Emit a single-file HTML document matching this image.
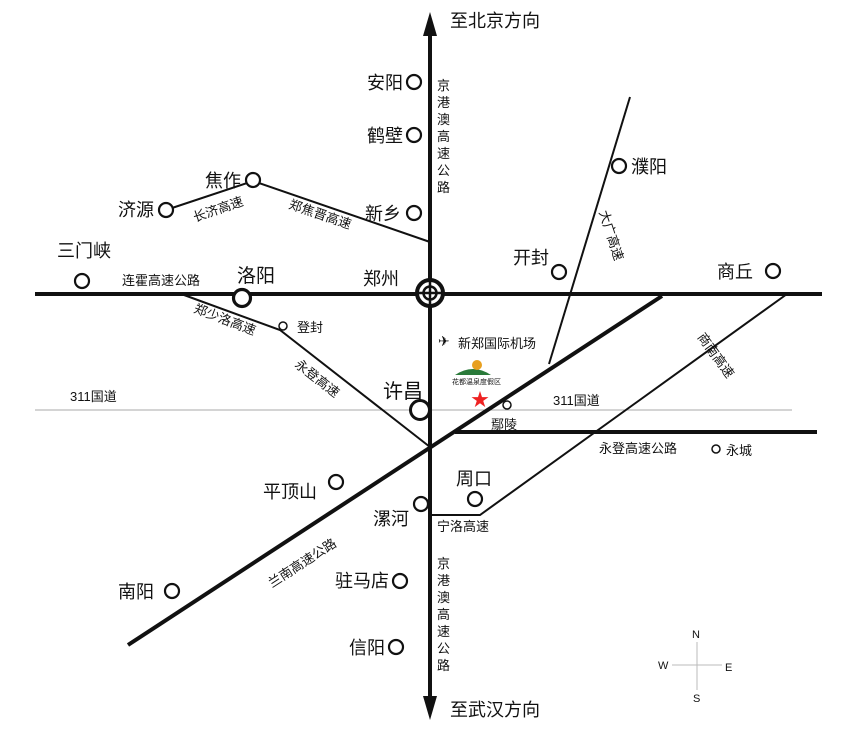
<!DOCTYPE html>
<html><head><meta charset="utf-8"><style>
html,body{margin:0;padding:0;background:#fff}
svg{display:block}
text{font-family:"Liberation Sans","Noto Sans CJK SC",sans-serif;fill:#111}
.c{font-size:18px}
.r{font-size:13px}
</style></head><body>
<svg width="851" height="733" viewBox="0 0 851 733" xmlns="http://www.w3.org/2000/svg">
<line x1="35" y1="410" x2="792" y2="410" stroke="#aaa" stroke-width="1"/>
<line x1="430" y1="30" x2="430" y2="702" stroke="#111" stroke-width="4"/>
<polygon points="430,12 423,36 437,36" fill="#111"/>
<polygon points="430,720 423,696 437,696" fill="#111"/>
<line x1="35" y1="294" x2="822" y2="294" stroke="#111" stroke-width="4"/>
<line x1="128" y1="645" x2="662" y2="296" stroke="#111" stroke-width="4"/>
<line x1="455" y1="432" x2="817" y2="432" stroke="#111" stroke-width="4"/>
<polyline points="430,515 480,515 787,294" fill="none" stroke="#111" stroke-width="2"/>
<line x1="630" y1="97" x2="549" y2="364" stroke="#111" stroke-width="2"/>
<polyline points="166,210 253,181 430,242" fill="none" stroke="#111" stroke-width="2"/>
<polyline points="184,295 280,330 430,447" fill="none" stroke="#111" stroke-width="2"/>
<g fill="#fff" stroke="#111" stroke-width="2.2">
<circle cx="414" cy="82" r="7"/>
<circle cx="414" cy="135" r="7"/>
<circle cx="414" cy="213" r="7"/>
<circle cx="253" cy="180" r="7"/>
<circle cx="166" cy="210" r="7"/>
<circle cx="82" cy="281" r="7"/>
<circle cx="619" cy="166" r="7"/>
<circle cx="559" cy="272" r="7"/>
<circle cx="773" cy="271" r="7"/>
<circle cx="336" cy="482" r="7"/>
<circle cx="421" cy="504" r="7"/>
<circle cx="475" cy="499" r="7"/>
<circle cx="400" cy="581" r="7"/>
<circle cx="172" cy="591" r="7"/>
<circle cx="396" cy="647" r="7"/>
</g>
<circle cx="242" cy="298" r="8.5" fill="#fff" stroke="#111" stroke-width="3.2"/>
<circle cx="420" cy="410" r="9.5" fill="#fff" stroke="#111" stroke-width="3"/>
<g fill="#fff" stroke="#111" stroke-width="1.5">
<circle cx="283" cy="326" r="4"/>
<circle cx="507" cy="405" r="4"/>
<circle cx="716" cy="449" r="4"/>
</g>
<circle cx="430" cy="293" r="13" fill="#fff" stroke="#111" stroke-width="4"/>
<circle cx="430" cy="293" r="6.5" fill="none" stroke="#111" stroke-width="2.5"/>
<line x1="430" y1="280" x2="430" y2="306" stroke="#111" stroke-width="2.5"/>
<line x1="417" y1="293" x2="443" y2="293" stroke="#111" stroke-width="2.5"/>
<line x1="697" y1="642" x2="697" y2="690" stroke="#bbb" stroke-width="1"/>
<line x1="672" y1="665" x2="722" y2="665" stroke="#bbb" stroke-width="1"/>
<text x="692" y="638" style="font-size:11px">N</text>
<text x="658" y="669" style="font-size:11px">W</text>
<text x="725" y="671" style="font-size:11px">E</text>
<text x="693" y="702" style="font-size:11px">S</text>
<text x="471" y="406" style="font-size:18px;fill:#e22">★</text>
<text x="438" y="346" style="font-size:14px">✈</text>
<path d="M455,375 q18,-12 36,0 z" fill="#2a7a3a"/>
<circle cx="477" cy="365" r="5" fill="#e8a020"/>
<text x="452" y="384" style="font-size:7px">花都温泉度假区</text>
<text class="c" x="450" y="27">至北京方向</text>
<text class="c" x="450" y="716">至武汉方向</text>
<text class="c" x="367" y="89">安阳</text>
<text class="c" x="367" y="142">鹤壁</text>
<text class="c" x="365" y="220">新乡</text>
<text class="c" x="205" y="187">焦作</text>
<text class="c" x="118" y="216">济源</text>
<text class="c" x="57" y="257">三门峡</text>
<text class="c" x="237" y="282" style="font-size:19px">洛阳</text>
<text class="c" x="363" y="285">郑州</text>
<text class="c" x="631" y="173">濮阳</text>
<text class="c" x="513" y="264">开封</text>
<text class="c" x="717" y="278">商丘</text>
<text class="c" x="383" y="398" style="font-size:20px">许昌</text>
<text class="c" x="263" y="498">平顶山</text>
<text class="c" x="373" y="525">漯河</text>
<text class="c" x="456" y="485">周口</text>
<text class="c" x="335" y="587">驻马店</text>
<text class="c" x="118" y="598">南阳</text>
<text class="c" x="349" y="654">信阳</text>
<text class="r" x="122" y="285">连霍高速公路</text>
<text class="r" x="297" y="332">登封</text>
<text class="r" x="458" y="348">新郑国际机场</text>
<text class="r" x="70" y="401">311国道</text>
<text class="r" x="553" y="405">311国道</text>
<text class="r" x="491" y="429">鄢陵</text>
<text class="r" x="599" y="453">永登高速公路</text>
<text class="r" x="726" y="455">永城</text>
<text class="r" x="437" y="531">宁洛高速</text>
<g class="r" style="font-size:13px">
<text x="437" y="90">京</text><text x="437" y="107">港</text><text x="437" y="124">澳</text><text x="437" y="141">高</text><text x="437" y="158">速</text><text x="437" y="175">公</text><text x="437" y="192">路</text>
<text x="437" y="568">京</text><text x="437" y="585">港</text><text x="437" y="602">澳</text><text x="437" y="619">高</text><text x="437" y="636">速</text><text x="437" y="653">公</text><text x="437" y="670">路</text>
</g>
<text class="r" transform="translate(195,222) rotate(-19)">长济高速</text>
<text class="r" transform="translate(288,208) rotate(19)">郑焦晋高速</text>
<text class="r" transform="translate(193,312) rotate(21)">郑少洛高速</text>
<text class="r" transform="translate(294,366) rotate(38)">永登高速</text>
<text class="r" transform="translate(272,588) rotate(-33)">兰南高速公路</text>
<text class="r" transform="translate(599,212) rotate(72)">大广高速</text>
<text class="r" transform="translate(697,337) rotate(54)">商南高速</text>
</svg>
</body></html>
